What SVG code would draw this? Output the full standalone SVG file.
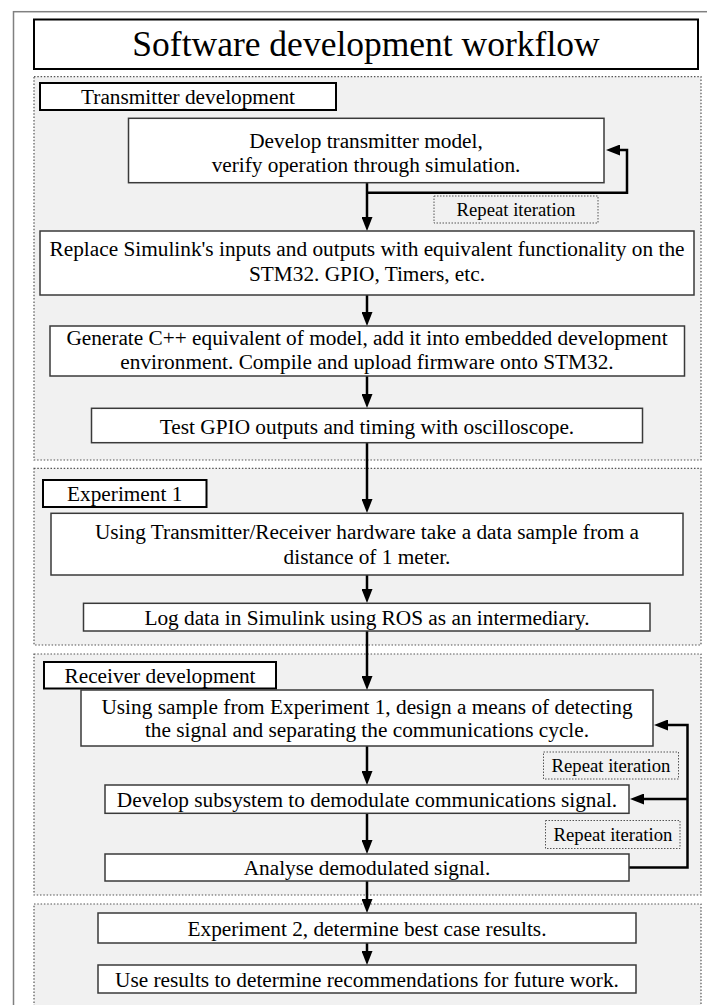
<svg xmlns="http://www.w3.org/2000/svg" width="707" height="1005" viewBox="0 0 707 1005">
<style>
.frame{fill:#fff;stroke:#808080;stroke-width:1.5}
.sec{fill:#f1f1f1;stroke:#555;stroke-width:1.2;stroke-dasharray:1.5 1.8}
.node{fill:#fff;stroke:#3a3a3a;stroke-width:1.5}
.lbl{fill:#fff;stroke:#000;stroke-width:2}
.rep{fill:#f1f1f1;stroke:#555;stroke-width:1;stroke-dasharray:1.5 1.5}
.t{font-family:"Liberation Serif","Times New Roman",serif;font-size:21.3px;fill:#000;text-anchor:middle}
.r{font-family:"Liberation Serif","Times New Roman",serif;font-size:18.7px;fill:#000;text-anchor:middle}
.c{fill:none;stroke:#000;stroke-width:2.5}
</style>
<defs>
<marker id="ah" viewBox="0 0 14 11" refX="2" refY="5.5" markerWidth="14" markerHeight="11" orient="auto" markerUnits="userSpaceOnUse">
<path d="M0,0 L14,5.5 L0,11 z" fill="#000"/>
</marker>
</defs>
<rect x="0" y="0" width="707" height="1005" fill="#fff"/>
<rect class="frame" x="13.5" y="11.7" width="720" height="1010"/>
<g id="title">
<rect class="lbl" x="34" y="19.5" width="664" height="49.5"/>
<text x="366" y="56" font-family="Liberation Serif, serif" font-size="35.5" text-anchor="middle">Software development workflow</text>
</g>
<g id="sections">
<rect id="sec-tx" class="sec" x="34" y="76.7" width="667" height="383.3"/>
<rect id="sec-exp1" class="sec" x="34" y="468.3" width="667" height="176.7"/>
<rect id="sec-rx" class="sec" x="34" y="654" width="667" height="241"/>
<rect id="sec-exp2" class="sec" x="34" y="904" width="667" height="120"/>
</g>
<g id="label-tx"><rect class="lbl" x="40" y="83" width="296" height="27"/><text class="t" x="188" y="104">Transmitter development</text></g>
<g id="label-exp1"><rect class="lbl" x="43" y="480" width="163.5" height="27"/><text class="t" x="124.7" y="501">Experiment 1</text></g>
<g id="label-rx"><rect class="lbl" x="44" y="662" width="232" height="26.5"/><text class="t" x="160" y="682.5">Receiver development</text></g>
<g id="connectors">
<path class="c" d="M367,183 V219" marker-end="url(#ah)"/>
<path class="c" d="M367,192.7 H627 V150 H618" marker-end="url(#ah)"/>
<path class="c" d="M367,295 V314" marker-end="url(#ah)"/>
<path class="c" d="M367,376 V396" marker-end="url(#ah)"/>
<path class="c" d="M367,443 V501" marker-end="url(#ah)"/>
<path class="c" d="M367,575 V591" marker-end="url(#ah)"/>
<path class="c" d="M367,631 V678" marker-end="url(#ah)"/>
<path class="c" d="M367,746 V773" marker-end="url(#ah)"/>
<path class="c" d="M367,813 V842" marker-end="url(#ah)"/>
<path class="c" d="M367,881 V901" marker-end="url(#ah)"/>
<path class="c" d="M367,943 V953" marker-end="url(#ah)"/>
<path class="c" d="M629,867.5 H687.5 V725 H666" marker-end="url(#ah)"/>
<path class="c" d="M687.5,799 H642" marker-end="url(#ah)"/>
</g>
<g id="rep1"><rect class="rep" x="434" y="196" width="164" height="27"/><text class="r" x="516" y="216">Repeat iteration</text></g>
<g id="rep2"><rect class="rep" x="543.5" y="752" width="135" height="27"/><text class="r" x="611" y="772">Repeat iteration</text></g>
<g id="rep3"><rect class="rep" x="545.5" y="820.5" width="134.5" height="28"/><text class="r" x="613" y="841">Repeat iteration</text></g>
<g id="n-model"><rect class="node" x="128.5" y="118.3" width="475.5" height="64.4"/><text class="t" x="366" y="148">Develop transmitter model,</text><text class="t" x="366" y="172">verify operation through simulation.</text></g>
<g id="n-replace"><rect class="node" x="40" y="231" width="654" height="64"/><text class="t" x="367" y="256">Replace Simulink's inputs and outputs with equivalent functionality on the</text><text class="t" x="367" y="281">STM32. GPIO, Timers, etc.</text></g>
<g id="n-generate"><rect class="node" x="50" y="326" width="634.5" height="50"/><text class="t" x="367" y="345">Generate C++ equivalent of model, add it into embedded development</text><text class="t" x="367" y="369">environment. Compile and upload firmware onto STM32.</text></g>
<g id="n-test"><rect class="node" x="91.5" y="408.3" width="551" height="34.4"/><text class="t" x="367" y="433.5">Test GPIO outputs and timing with oscilloscope.</text></g>
<g id="n-sample"><rect class="node" x="51" y="513.3" width="632" height="61.7"/><text class="t" x="367" y="539">Using Transmitter/Receiver hardware take a data sample from a</text><text class="t" x="367" y="564">distance of 1 meter.</text></g>
<g id="n-log"><rect class="node" x="83.5" y="603.3" width="566.5" height="27.7"/><text class="t" x="367" y="625">Log data in Simulink using ROS as an intermediary.</text></g>
<g id="n-detect"><rect class="node" x="81" y="690" width="572" height="56"/><text class="t" x="367" y="714">Using sample from Experiment 1, design a means of detecting</text><text class="t" x="367" y="737">the signal and separating the communications cycle.</text></g>
<g id="n-demod"><rect class="node" x="105" y="785" width="524" height="28.3"/><text class="t" x="367" y="807">Develop subsystem to demodulate communications signal.</text></g>
<g id="n-analyse"><rect class="node" x="105" y="854" width="524" height="27"/><text class="t" x="367" y="875">Analyse demodulated signal.</text></g>
<g id="n-exp2"><rect class="node" x="98" y="913" width="538" height="30"/><text class="t" x="367" y="936">Experiment 2, determine best case results.</text></g>
<g id="n-results"><rect class="node" x="98" y="965" width="538" height="28"/><text class="t" x="367" y="987">Use results to determine recommendations for future work.</text></g>
</svg>
